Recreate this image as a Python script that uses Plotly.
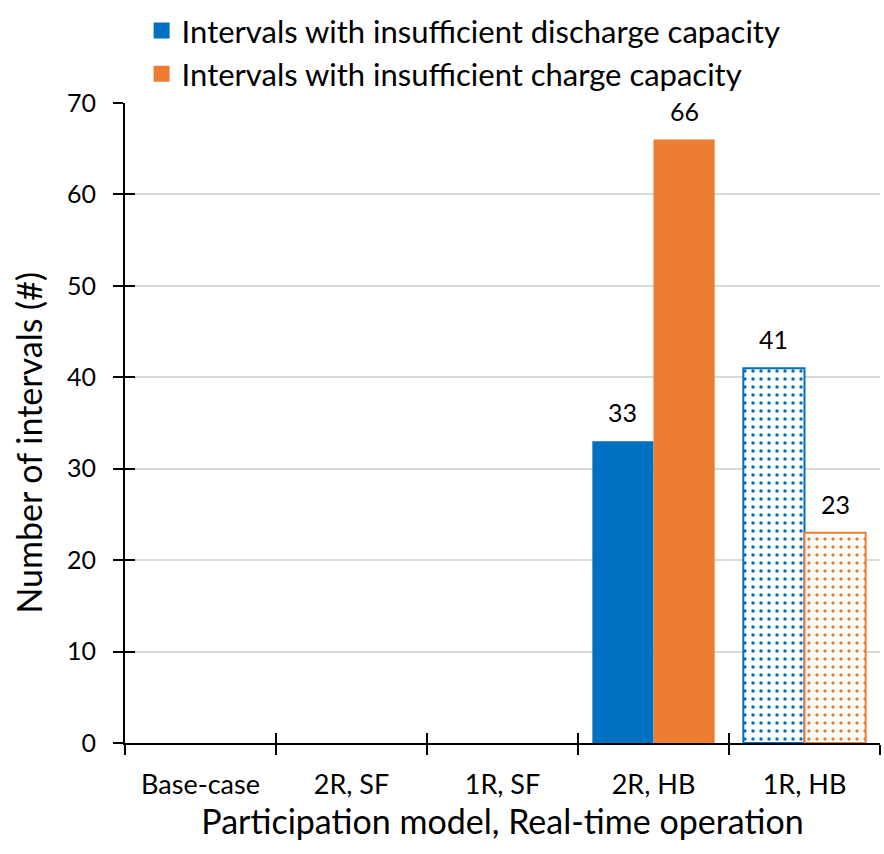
import plotly.graph_objects as go

categories = ["Base-case", "2R, SF", "1R, SF", "2R, HB", "1R, HB"]
discharge = [0, 0, 0, 33, 41]
charge = [0, 0, 0, 66, 23]
patterned = [False, False, False, False, True]
series_names = ["Intervals with insufficient discharge capacity",
                "Intervals with insufficient charge capacity"]
blue = "#0070C0"
orange = "#ED7D31"
FONT = "Lato"
BARGAP = 0.19

def bar(vals, name, color):
    return go.Bar(
        x=categories, y=vals, name=name, showlegend=False,
        marker=dict(
            color=color,
            line=dict(color=color, width=[2 if p else 0 for p in patterned]),
            pattern=dict(shape=["." if p else "" for p in patterned],
                         fillmode="replace", bgcolor="white",
                         fgcolor=color, size=8, solidity=0.15),
        ),
    )

series = [(discharge, series_names[0], blue), (charge, series_names[1], orange)]
fig = go.Figure([bar(*s) for s in series])

# legend entries with larger square swatches
for vals, name, color in series:
    fig.add_trace(go.Scatter(x=[None], y=[None], name=name, mode="markers",
                             marker=dict(symbol="square", size=22, color=color)))

# invisible helper trace so that overlay axes (inner half of crossing ticks) are drawn
fig.add_trace(go.Scatter(x=categories, y=discharge, xaxis="x2", yaxis="y2",
                         mode="markers", marker=dict(opacity=0),
                         showlegend=False, hoverinfo="skip"))

# data labels above bars (only non-zero values are labelled)
bw = (1 - BARGAP) / 2
annotations = []
for i, (vals, name, color) in enumerate(series):
    for j, v in enumerate(vals):
        if v:
            annotations.append(dict(
                x=j + (i - 0.5) * bw, y=v, xref="x", yref="y",
                text=str(v), showarrow=False, yanchor="bottom", yshift=12,
                font=dict(size=25, family=FONT, color="black")))

annotations.append(dict(
    text="Number of intervals (#)", textangle=-90, showarrow=False,
    xref="paper", yref="paper", x=-0.128, y=0.47,
    xanchor="center", yanchor="middle",
    font=dict(size=34, family=FONT, color="black")))

fig.update_layout(
    width=884, height=854,
    margin=dict(l=125, r=4, t=100, b=111),
    paper_bgcolor="white", plot_bgcolor="white",
    barmode="group", bargap=BARGAP, bargroupgap=0,
    font=dict(family=FONT, color="black"),
    annotations=annotations,
    legend=dict(x=0.022, y=1.155, xanchor="left", yanchor="top",
                font=dict(size=31, family=FONT), orientation="v",
                bgcolor="rgba(0,0,0,0)", tracegroupgap=0, itemsizing="trace"),
    xaxis=dict(
        range=[-0.5, 4.5], automargin=False,
        tickson="boundaries", ticks="outside", ticklen=10, tickwidth=2,
        tickcolor="black", showline=True, linecolor="black", linewidth=2,
        tickfont=dict(size=27, family=FONT), ticklabelstandoff=17,
        title=dict(text="Participation model, Real-time operation",
                   font=dict(size=34, family=FONT), standoff=6),
    ),
    yaxis=dict(
        range=[0, 70], dtick=10, automargin=False,
        ticks="outside", ticklen=10, tickwidth=2,
        tickcolor="black", showline=True, linecolor="black", linewidth=2,
        showgrid=True, gridcolor="#D9D9D9", gridwidth=2, zeroline=False,
        tickfont=dict(size=25, family=FONT), ticklabelstandoff=12,
    ),
    xaxis2=dict(
        overlaying="x", anchor="y2", side="bottom", type="category",
        range=[-0.5, 4.5], tickson="boundaries", ticks="inside", ticklen=10,
        tickwidth=2, tickcolor="black", showticklabels=False,
        showgrid=False, showline=False, zeroline=False,
    ),
    yaxis2=dict(
        overlaying="y", anchor="x2", side="left", range=[0, 70], dtick=10,
        ticks="inside", ticklen=10, tickwidth=2, tickcolor="black",
        showticklabels=False, showgrid=False, showline=False, zeroline=False,
    ),
)

fig.write_html("out.html")
